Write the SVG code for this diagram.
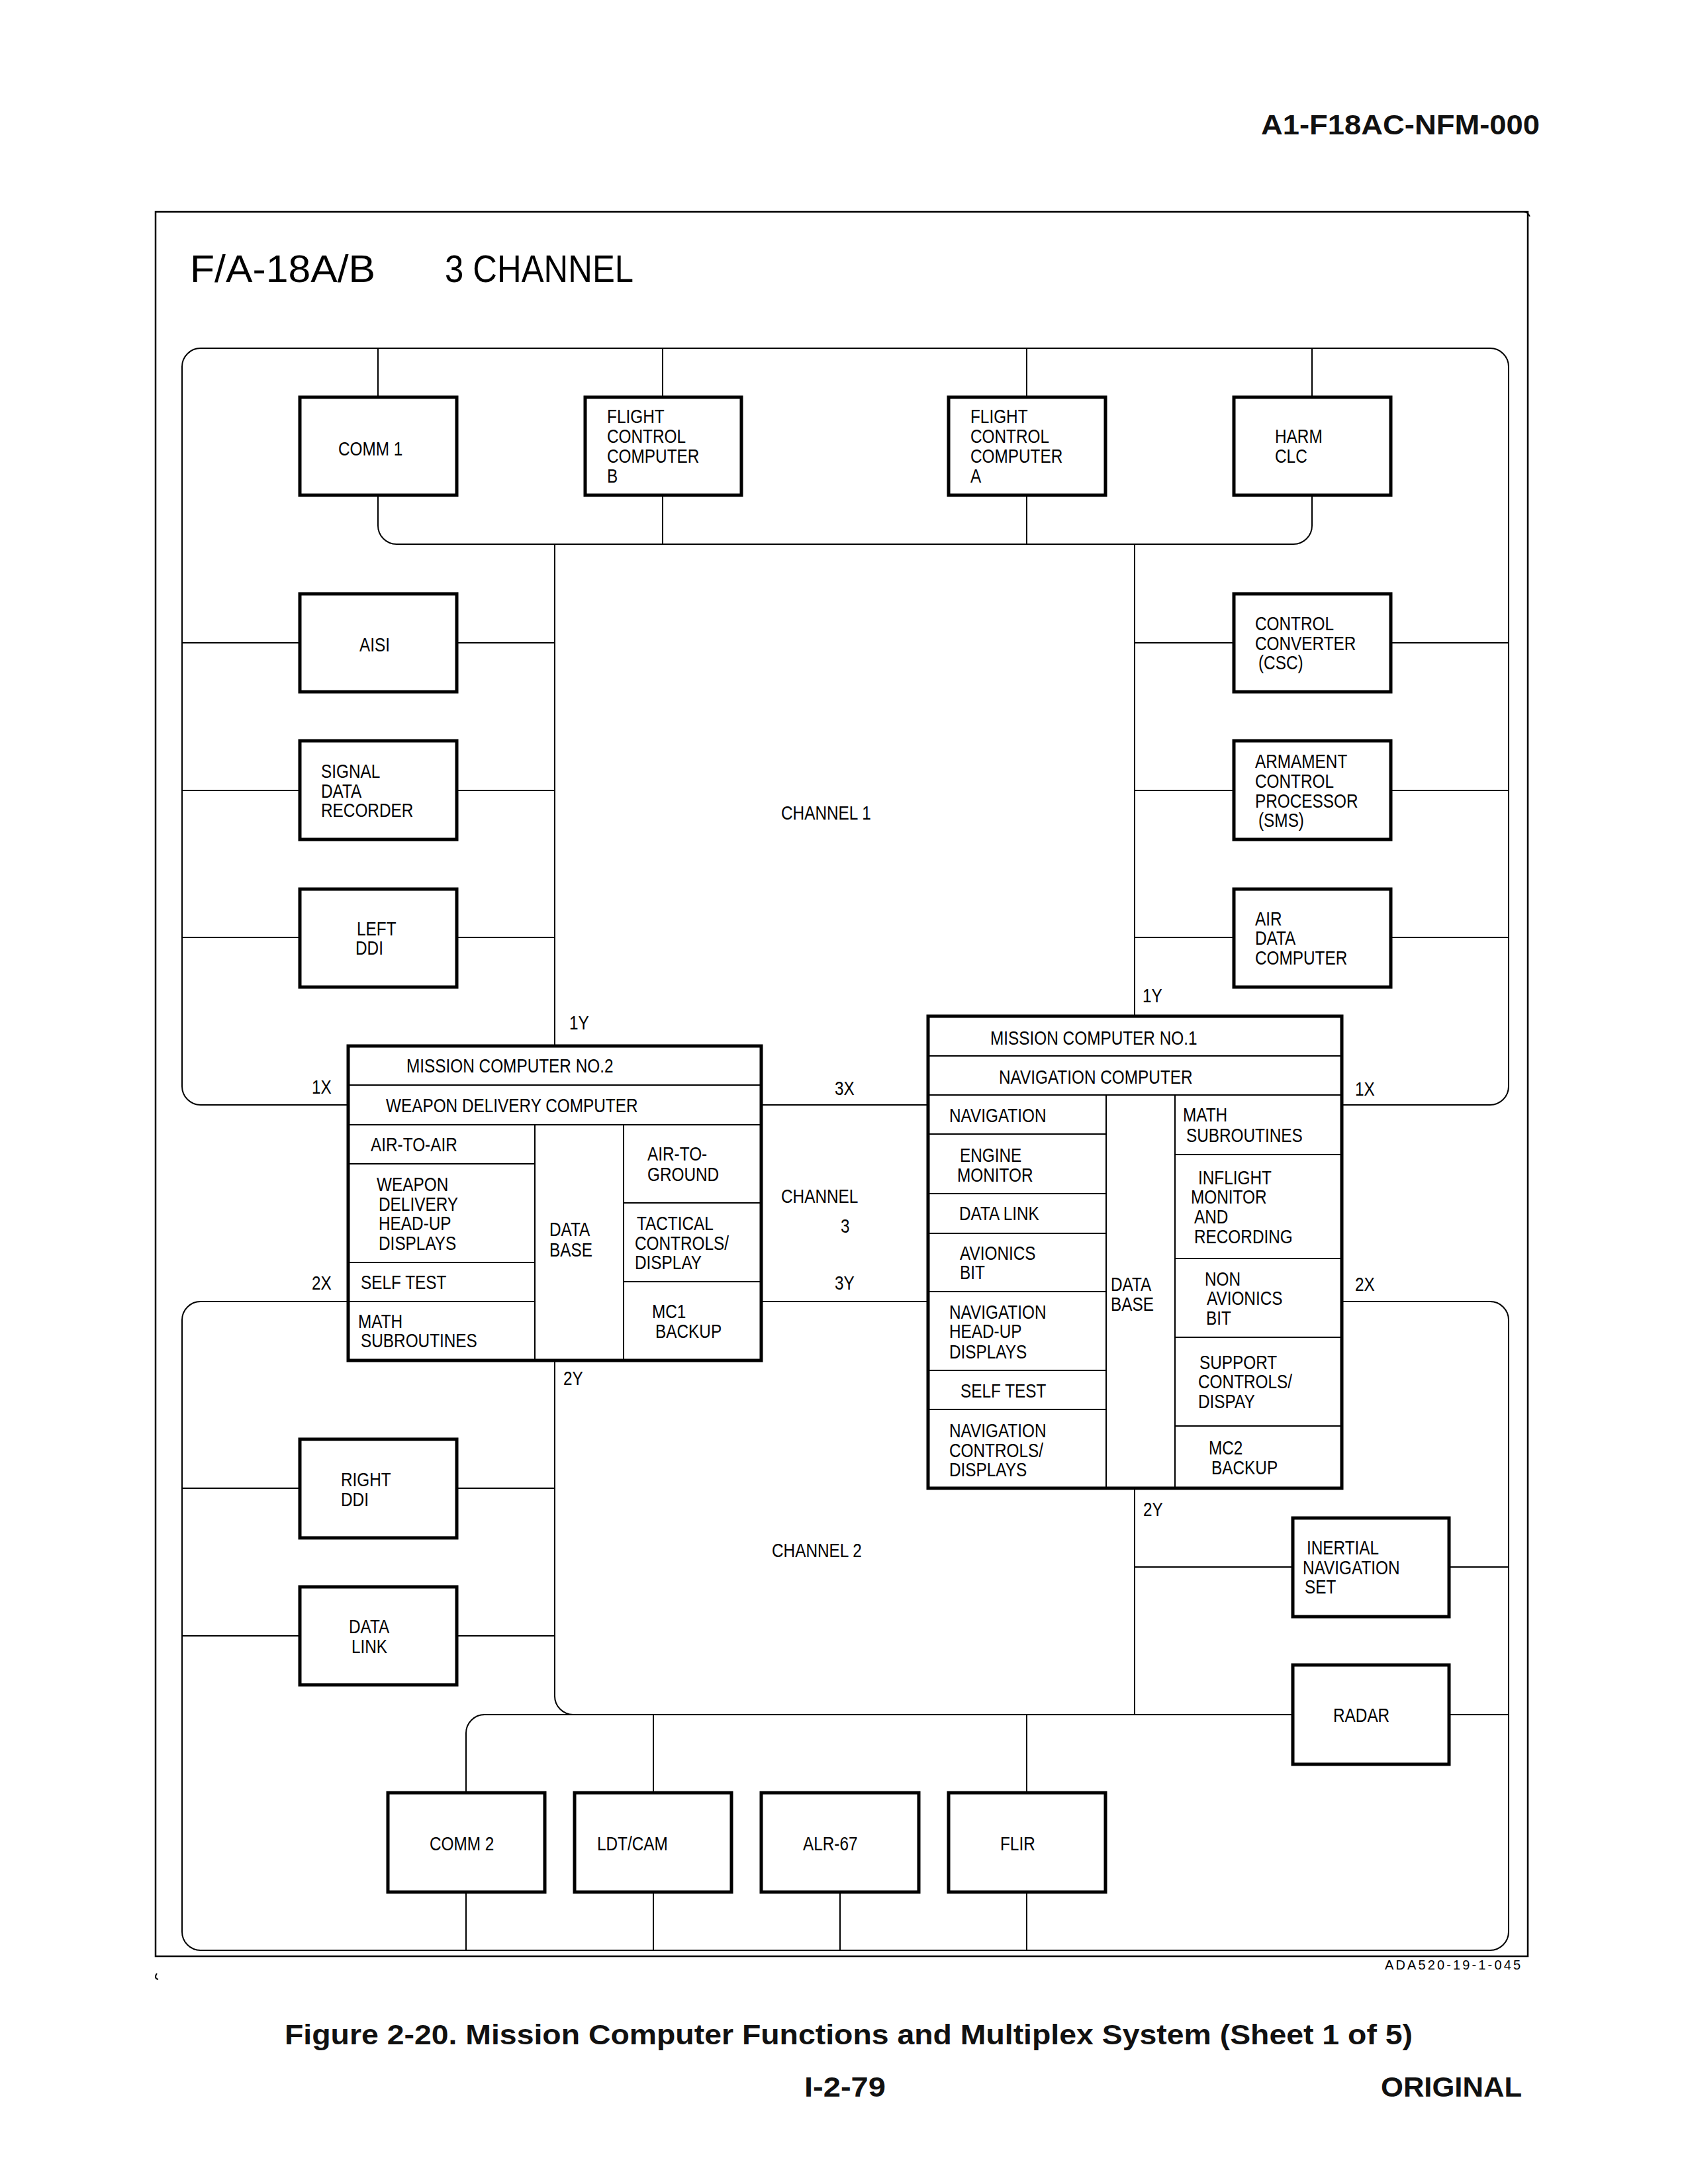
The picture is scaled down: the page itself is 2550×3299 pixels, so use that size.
<svg xmlns="http://www.w3.org/2000/svg" width="2550" height="3299" viewBox="0 0 2550 3299">
<style>
.bg{fill:#fff}
.frame{fill:none;stroke:#000;stroke-width:2.5}
.bus{fill:none;stroke:#000;stroke-width:2}
.box{fill:#fff;stroke:#000;stroke-width:5}
.div{fill:none;stroke:#000;stroke-width:2}
.t{font-family:"Liberation Sans",Arial,sans-serif;font-size:29px;fill:#000}
.title{font-family:"Liberation Sans",Arial,sans-serif;font-size:58px;fill:#000}
.hdr{font-family:"Liberation Sans",Arial,sans-serif;font-weight:bold;font-size:43px;fill:#111}
.code{font-family:"Liberation Sans",Arial,sans-serif;font-size:20px;fill:#000}
</style>
<rect class="bg" x="0" y="0" width="2550" height="3299"/>

<g id="page-text">
<text class="hdr" x="1905" y="203" textLength="421" lengthAdjust="spacingAndGlyphs">A1-F18AC-NFM-000</text>
<text class="hdr" x="430" y="3088" textLength="1704" lengthAdjust="spacingAndGlyphs">Figure 2-20. Mission Computer Functions and Multiplex System (Sheet 1 of 5)</text>
<text class="hdr" x="1215" y="3167" textLength="123" lengthAdjust="spacingAndGlyphs">I-2-79</text>
<text class="hdr" x="2086" y="3167" textLength="213" lengthAdjust="spacingAndGlyphs">ORIGINAL</text>
</g>

<g id="frame">
<rect class="frame" x="235" y="320" width="2073" height="2635"/>
<path class="bus" d="M2300,320 Q2308,319 2311,327"/>
<path class="bus" d="M237,2981 Q232,2988 239,2990"/>
<text class="title" x="287" y="426" textLength="280" lengthAdjust="spacingAndGlyphs">F/A-18A/B</text>
<text class="title" x="672" y="426" textLength="285" lengthAdjust="spacingAndGlyphs">3 CHANNEL</text>
<text class="code" x="2092" y="2975" textLength="205" lengthAdjust="spacing">ADA520-19-1-045</text>
</g>

<g id="connectors">
<path class="bus" d="M526,1669 H303 A28,28 0 0 1 275,1641 V554 A28,28 0 0 1 303,526 H2251 A28,28 0 0 1 2279,554 V1641 A28,28 0 0 1 2251,1669 H2027"/>
<path class="bus" d="M571,526 V600 M1001,526 V600 M1551,526 V600 M1982,526 V600"/>
<path class="bus" d="M571,748 V794 A28,28 0 0 0 599,822 H1954 A28,28 0 0 0 1982,794 V748"/>
<path class="bus" d="M1001,748 V822 M1551,748 V822"/>
<path class="bus" d="M838,822 V1580 M1714,822 V1535"/>
<path class="bus" d="M275,971 H453 M690,971 H838 M275,1194 H453 M690,1194 H838 M275,1416 H453 M690,1416 H838"/>
<path class="bus" d="M1714,971 H1864 M2101,971 H2279 M1714,1194 H1864 M2101,1194 H2279 M1714,1416 H1864 M2101,1416 H2279"/>
<path class="bus" d="M1150,1669 H1402 M1150,1966 H1402"/>
<path class="bus" d="M526,1966 H303 A28,28 0 0 0 275,1994 V2918 A28,28 0 0 0 303,2946 H2251 A28,28 0 0 0 2279,2918 V1994 A28,28 0 0 0 2251,1966 H2027"/>
<path class="bus" d="M275,2248 H453 M690,2248 H838 M275,2471 H453 M690,2471 H838"/>
<path class="bus" d="M838,2055 V2562 A28,28 0 0 0 866,2590"/>
<path class="bus" d="M704,2708 V2618 A28,28 0 0 1 732,2590 H1953"/>
<path class="bus" d="M1714,2248 V2590"/>
<path class="bus" d="M1714,2367 H1953 M2189,2367 H2279 M2189,2590 H2279"/>
<path class="bus" d="M987,2590 V2708 M1551,2590 V2708"/>
<path class="bus" d="M704,2858 V2946 M987,2858 V2946 M1269,2858 V2946 M1551,2858 V2946"/>
</g>

<g id="comm1"><rect class="box" x="453" y="600" width="237" height="148"/><text class="t" transform="scale(0.84 1)" x="608.3" y="688">COMM 1</text></g>
<g id="fcc-b"><rect class="box" x="884" y="600" width="236" height="148"/><text class="t" transform="scale(0.84 1)"><tspan x="1091.7" y="639">FLIGHT</tspan><tspan x="1091.7" y="669">CONTROL</tspan><tspan x="1091.7" y="699">COMPUTER</tspan><tspan x="1091.7" y="729">B</tspan></text></g>
<g id="fcc-a"><rect class="box" x="1433" y="600" width="237" height="148"/><text class="t" transform="scale(0.84 1)"><tspan x="1745.2" y="639">FLIGHT</tspan><tspan x="1745.2" y="669">CONTROL</tspan><tspan x="1745.2" y="699">COMPUTER</tspan><tspan x="1745.2" y="729">A</tspan></text></g>
<g id="harm"><rect class="box" x="1864" y="600" width="237" height="148"/><text class="t" transform="scale(0.84 1)"><tspan x="2292.9" y="669">HARM</tspan><tspan x="2292.9" y="699">CLC</tspan></text></g>

<g id="aisi"><rect class="box" x="453" y="897" width="237" height="148"/><text class="t" transform="scale(0.84 1)" x="646.4" y="984">AISI</text></g>
<g id="sdr"><rect class="box" x="453" y="1119" width="237" height="149"/><text class="t" transform="scale(0.84 1)"><tspan x="577.4" y="1175">SIGNAL</tspan><tspan x="577.4" y="1205">DATA</tspan><tspan x="577.4" y="1234">RECORDER</tspan></text></g>
<g id="left-ddi"><rect class="box" x="453" y="1343" width="237" height="148"/><text class="t" transform="scale(0.84 1)"><tspan x="641.7" y="1413">LEFT</tspan><tspan x="639.3" y="1442">DDI</tspan></text></g>

<g id="csc"><rect class="box" x="1864" y="897" width="237" height="148"/><text class="t" transform="scale(0.84 1)"><tspan x="2257.1" y="952">CONTROL</tspan><tspan x="2257.1" y="982">CONVERTER</tspan><tspan x="2263.1" y="1011">(CSC)</tspan></text></g>
<g id="acp"><rect class="box" x="1864" y="1119" width="237" height="149"/><text class="t" transform="scale(0.84 1)"><tspan x="2257.1" y="1160">ARMAMENT</tspan><tspan x="2257.1" y="1190">CONTROL</tspan><tspan x="2257.1" y="1220">PROCESSOR</tspan><tspan x="2263.1" y="1249">(SMS)</tspan></text></g>
<g id="adc"><rect class="box" x="1864" y="1343" width="237" height="148"/><text class="t" transform="scale(0.84 1)"><tspan x="2257.1" y="1398">AIR</tspan><tspan x="2257.1" y="1427">DATA</tspan><tspan x="2257.1" y="1457">COMPUTER</tspan></text></g>

<g id="bus-labels" transform="scale(0.84 1)">
<text class="t" x="1404.8" y="1238">CHANNEL 1</text>
<text class="t" x="1023.8" y="1555">1Y</text>
<text class="t" x="2054.8" y="1514">1Y</text>
<text class="t" x="560.7" y="1652">1X</text>
<text class="t" x="1501.2" y="1654">3X</text>
<text class="t" x="2436.9" y="1655">1X</text>
<text class="t" x="1404.8" y="1817">CHANNEL</text>
<text class="t" x="1511.9" y="1862">3</text>
<text class="t" x="560.7" y="1948">2X</text>
<text class="t" x="1501.2" y="1948">3Y</text>
<text class="t" x="2436.9" y="1950">2X</text>
<text class="t" x="1013.1" y="2092">2Y</text>
<text class="t" x="2056.0" y="2290">2Y</text>
<text class="t" x="1388.1" y="2352">CHANNEL 2</text>
</g>

<g id="mc2">
<rect class="box" x="526" y="1580" width="624" height="475"/>
<path class="div" d="M526,1639 H1150 M526,1699 H1150 M808,1699 V2055 M942,1699 V2055 M526,1758 H808 M526,1907 H808 M526,1966 H808 M942,1817 H1150 M942,1936 H1150"/>
<g transform="scale(0.84 1)">
<text class="t" x="731.0" y="1620">MISSION COMPUTER NO.2</text>
<text class="t" x="694.0" y="1680">WEAPON DELIVERY COMPUTER</text>
<text class="t" x="666.7" y="1739">AIR-TO-AIR</text>
<text class="t"><tspan x="677.4" y="1799">WEAPON</tspan><tspan x="681.0" y="1829">DELIVERY</tspan><tspan x="681.0" y="1858">HEAD-UP</tspan><tspan x="681.0" y="1888">DISPLAYS</tspan></text>
<text class="t" x="648.8" y="1947">SELF TEST</text>
<text class="t"><tspan x="644.0" y="2006">MATH</tspan><tspan x="648.8" y="2035">SUBROUTINES</tspan></text>
<text class="t"><tspan x="988.1" y="1867">DATA</tspan><tspan x="988.1" y="1898">BASE</tspan></text>
<text class="t"><tspan x="1164.3" y="1753">AIR-TO-</tspan><tspan x="1164.3" y="1784">GROUND</tspan></text>
<text class="t"><tspan x="1145.2" y="1858">TACTICAL</tspan><tspan x="1141.7" y="1888">CONTROLS/</tspan><tspan x="1141.7" y="1917">DISPLAY</tspan></text>
<text class="t"><tspan x="1172.6" y="1991">MC1</tspan><tspan x="1178.6" y="2021">BACKUP</tspan></text>
</g>
</g>

<g id="mc1">
<rect class="box" x="1402" y="1535" width="625" height="713"/>
<path class="div" d="M1402,1595 H2027 M1402,1654 H2027 M1671,1654 V2248 M1775,1654 V2248 M1402,1713 H1671 M1402,1803 H1671 M1402,1863 H1671 M1402,1951 H1671 M1402,2070 H1671 M1402,2129 H1671 M1775,1744 H2027 M1775,1901 H2027 M1775,2020 H2027 M1775,2154 H2027"/>
<g transform="scale(0.84 1)">
<text class="t" x="1781.0" y="1578">MISSION COMPUTER NO.1</text>
<text class="t" x="1796.4" y="1637">NAVIGATION COMPUTER</text>
<text class="t" x="1707.1" y="1695">NAVIGATION</text>
<text class="t"><tspan x="1726.2" y="1755">ENGINE</tspan><tspan x="1721.4" y="1785">MONITOR</tspan></text>
<text class="t" x="1725.0" y="1843">DATA LINK</text>
<text class="t"><tspan x="1726.2" y="1903">AVIONICS</tspan><tspan x="1726.2" y="1932">BIT</tspan></text>
<text class="t"><tspan x="1707.1" y="1992">NAVIGATION</tspan><tspan x="1707.1" y="2021">HEAD-UP</tspan><tspan x="1707.1" y="2052">DISPLAYS</tspan></text>
<text class="t" x="1727.4" y="2111">SELF TEST</text>
<text class="t"><tspan x="1707.1" y="2171">NAVIGATION</tspan><tspan x="1707.1" y="2201">CONTROLS/</tspan><tspan x="1707.1" y="2230">DISPLAYS</tspan></text>
<text class="t"><tspan x="1997.6" y="1950">DATA</tspan><tspan x="1997.6" y="1980">BASE</tspan></text>
<text class="t"><tspan x="2127.4" y="1694">MATH</tspan><tspan x="2133.3" y="1725">SUBROUTINES</tspan></text>
<text class="t"><tspan x="2154.8" y="1789">INFLIGHT</tspan><tspan x="2141.7" y="1818">MONITOR</tspan><tspan x="2147.6" y="1848">AND</tspan><tspan x="2147.6" y="1878">RECORDING</tspan></text>
<text class="t"><tspan x="2166.7" y="1942">NON</tspan><tspan x="2170.2" y="1971">AVIONICS</tspan><tspan x="2169.0" y="2001">BIT</tspan></text>
<text class="t"><tspan x="2157.1" y="2068">SUPPORT</tspan><tspan x="2154.8" y="2097">CONTROLS/</tspan><tspan x="2154.8" y="2127">DISPAY</tspan></text>
<text class="t"><tspan x="2173.8" y="2197">MC2</tspan><tspan x="2178.6" y="2227">BACKUP</tspan></text>
</g>
</g>

<g id="right-ddi"><rect class="box" x="453" y="2174" width="237" height="149"/><text class="t" transform="scale(0.84 1)"><tspan x="613.1" y="2245">RIGHT</tspan><tspan x="613.1" y="2275">DDI</tspan></text></g>
<g id="data-link"><rect class="box" x="453" y="2397" width="237" height="148"/><text class="t" transform="scale(0.84 1)"><tspan x="627.4" y="2467">DATA</tspan><tspan x="632.1" y="2497">LINK</tspan></text></g>
<g id="ins"><rect class="box" x="1953" y="2293" width="236" height="149"/><text class="t" transform="scale(0.84 1)"><tspan x="2350.0" y="2348">INERTIAL</tspan><tspan x="2342.9" y="2378">NAVIGATION</tspan><tspan x="2346.4" y="2407">SET</tspan></text></g>
<g id="radar"><rect class="box" x="1953" y="2515" width="236" height="150"/><text class="t" transform="scale(0.84 1)" x="2397.6" y="2601">RADAR</text></g>
<g id="comm2"><rect class="box" x="586" y="2708" width="237" height="150"/><text class="t" transform="scale(0.84 1)" x="772.6" y="2795">COMM 2</text></g>
<g id="ldt-cam"><rect class="box" x="868" y="2708" width="237" height="150"/><text class="t" transform="scale(0.84 1)" x="1073.8" y="2795">LDT/CAM</text></g>
<g id="alr-67"><rect class="box" x="1150" y="2708" width="238" height="150"/><text class="t" transform="scale(0.84 1)" x="1444.0" y="2795">ALR-67</text></g>
<g id="flir"><rect class="box" x="1433" y="2708" width="237" height="150"/><text class="t" transform="scale(0.84 1)" x="1798.8" y="2795">FLIR</text></g>
</svg>
